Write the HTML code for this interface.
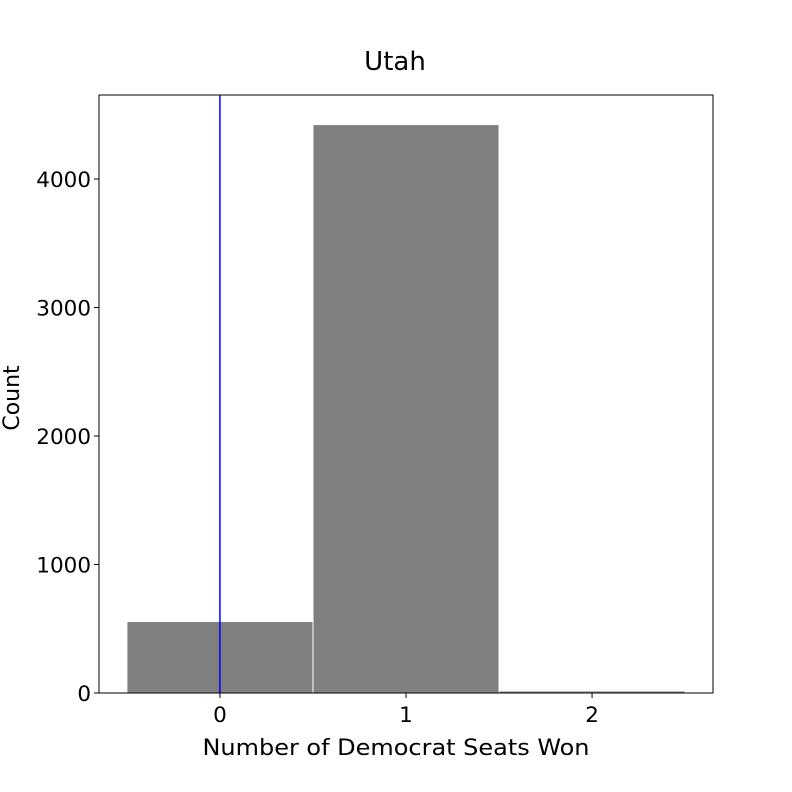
<!DOCTYPE html>
<html><head><meta charset="utf-8"><style>
html,body{margin:0;padding:0;background:#fff;}
svg{display:block;font-family:"DejaVu Sans","Liberation Sans",sans-serif;}
</style></head><body>
<svg id="chart" width="792" height="792" viewBox="0 0 792 792">
<rect width="792" height="792" fill="#fff"/>
<text x="395" y="70" font-size="26" text-anchor="middle">Utah</text>
<g id="bars"></g>
<g id="xticks"></g>
<g id="yticks"></g>
<line id="ref" stroke="#0000ff" stroke-width="1.5"/>
<rect x="99" y="95" width="614" height="598" fill="none" stroke="#000" stroke-width="1"/>
<text x="396" y="755" font-size="22" text-anchor="middle" textLength="387" lengthAdjust="spacingAndGlyphs">Number of Democrat Seats Won</text>
<text x="19" y="398" font-size="22" text-anchor="middle" transform="rotate(-90 19 398)">Count</text>
</svg>
<script>
const categories = [0, 1, 2];
const counts = [553, 4420, 12];
const xTickLabels = ["0", "1", "2"];
const yTickValues = [0, 1000, 2000, 3000, 4000];
const refValue = 0;

const X0 = 99, X1 = 713, Y0 = 693, Y1 = 95;
const xMin = -0.65, xMax = 2.65, yMin = 0, yMax = 4654;
const xs = v => X0 + (v - xMin) / (xMax - xMin) * (X1 - X0);
const ys = v => Y0 - (v - yMin) / (yMax - yMin) * (Y0 - Y1);
const NS = "http://www.w3.org/2000/svg";
const mk = (t, a, p) => { const e = document.createElementNS(NS, t); for (const k in a) e.setAttribute(k, a[k]); p.appendChild(e); return e; };

const bars = document.getElementById('bars');
categories.forEach((c, i) => {
  const l = xs(c - 0.5), r = xs(c + 0.5);
  const r1 = mk('rect', {x: l + 0.5, y: ys(counts[i]), width: r - l - 1, height: ys(0) - ys(counts[i]), fill: '#808080'}, bars);
  
  
});
const xt = document.getElementById('xticks');
categories.forEach((c, i) => {
  const x = xs(c);
  mk('line', {x1: x, x2: x, y1: Y0, y2: Y0 + 5, stroke: '#000'}, xt);
  const t = mk('text', {x: x, y: Y0 + 29, 'font-size': 21.5, 'text-anchor': 'middle'}, xt);
  t.textContent = xTickLabels[i];
  
  
});
const yt = document.getElementById('yticks');
yTickValues.forEach(v => {
  const y = ys(v);
  mk('line', {x1: X0 - 5, x2: X0, y1: y, y2: y, stroke: '#000'}, yt);
  const t = mk('text', {x: X0 - 8, y: y + 8, 'font-size': 21.5, 'text-anchor': 'end'}, yt);
  t.textContent = String(v);
  
  
});
const ref = document.getElementById('ref');
ref.setAttribute('x1', xs(refValue)); ref.setAttribute('x2', xs(refValue));
ref.setAttribute('y1', Y1); ref.setAttribute('y2', Y0);
</script>
</body></html>
